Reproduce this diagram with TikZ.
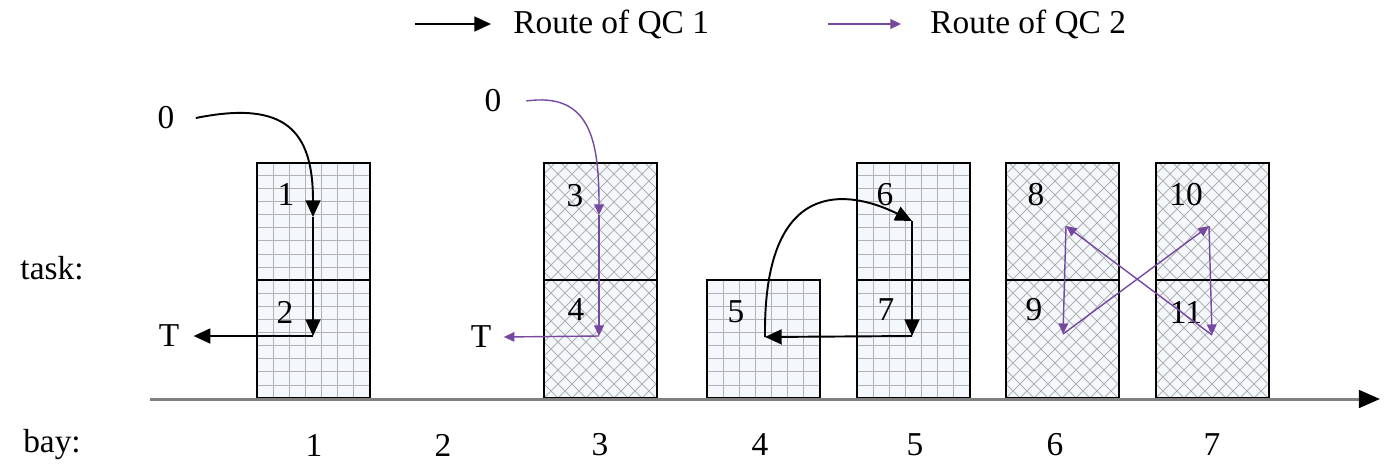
\documentclass[tikz,border=0pt]{standalone}
\usepackage{fontspec}
\setmainfont{Liberation Serif}
\usetikzlibrary{arrows.meta,positioning}
\definecolor{qcpurple}{RGB}{118,72,160}
\definecolor{boxfill}{RGB}{244,247,252}
\definecolor{axisgray}{RGB}{128,128,128}

\begin{document}
\begin{tikzpicture}[x=0.02cm, y=-0.02cm,
    lbl/.style={font=\fontsize{19}{22}\selectfont, inner sep=0pt},
    route1/.style={black, line width=1.1pt, -{Triangle[length=9.5pt, width=8.5pt]}},
    route2/.style={qcpurple, line width=0.8pt, -{Triangle[length=6pt, width=5.5pt]}},
    hatch/.style={draw=gray!60, line width=0.45pt},
    bayframe/.style={draw=black, line width=1.1pt}
  ]
    % frame
    \useasboundingbox (0,0) rectangle (1388,467);

    % legend
    \coordinate (leg1a) at (415,24);
    \coordinate (leg1b) at (491,24);
    \node[lbl, anchor=west] (leg1) at (513,24) {Route of QC 1};
    \coordinate (leg2a) at (828,24);
    \coordinate (leg2b) at (901,24);
    \node[lbl, anchor=west] (leg2) at (930,24) {Route of QC 2};
    \draw[route1] (leg1a) -- (leg1b);
    \draw[route2] (leg2a) -- (leg2b);

    % grid tasks (QC 1)
    \foreach \xa/\ya in {257/163, 707/280, 857/163} {
      \begin{scope}
        \clip (\xa,\ya) rectangle (\xa+113,398);
        \fill[boxfill] (\xa,\ya) rectangle (\xa+113,398);
        \foreach \i in {1,...,7}
          \draw[hatch] (\xa+\i*16,\ya) -- (\xa+\i*16,398);
        \foreach \j in {1,...,18}
          \draw[hatch] (\xa,398-\j*13.1) -- (\xa+113,398-\j*13.1);
      \end{scope}
    }

    % crosshatch tasks (QC 2)
    \foreach \xa/\ya in {544/163, 1006/163, 1156/163} {
      \begin{scope}
        \clip (\xa,\ya) rectangle (\xa+113,398);
        \fill[boxfill] (\xa,\ya) rectangle (\xa+113,398);
        \foreach \k in {-18,...,10}
          \draw[hatch] (\xa+\k*14,398) -- ++(240,-240);
        \foreach \k in {0,...,26}
          \draw[hatch] (\xa+\k*14,398) -- ++(-240,-240);
      \end{scope}
    }

    % task frames
    \foreach \xa in {257, 544, 857, 1006, 1156} {
      \draw[bayframe] (\xa,163) rectangle (\xa+113,398);
      \draw[bayframe] (\xa,280) -- (\xa+113,280);
    }
    \draw[bayframe] (707,280) rectangle (820,398);

    % axis
    \draw[axisgray, line width=1.7pt, -{Triangle[length=12pt, width=10pt, color=black]}] (150,399) -- (1380,399);

    % row labels
    \node[lbl] (task) at (52,268) {task:};
    \node[lbl] (bay) at (52,445) {bay:};
    \foreach \b/\x in {1/314, 2/443, 3/600, 4/760, 5/915, 6/1055, 7/1212}
      \node[lbl] (bay\b) at (\x,445) {\b};

    % task numbers
    \node[lbl] (t1) at (286,194) {1};
    \node[lbl] (t2) at (285,312) {2};
    \node[lbl] (t3) at (575,196) {3};
    \node[lbl] (t4) at (576,310) {4};
    \node[lbl] (t5) at (736,312) {5};
    \node[lbl] (t6) at (885,195) {6};
    \node[lbl] (t7) at (886,310) {7};
    \node[lbl] (t8) at (1036,195) {8};
    \node[lbl] (t9) at (1034,310) {9};
    \node[lbl] (t10) at (1186,195) {10};
    \node[lbl] (t11) at (1186,312) {11};

    % start and end
    \node[lbl] (s1) at (166,118) {0};
    \node[lbl] (e1) at (169,336) {T};
    \node[lbl] (s2) at (493,101) {0};
    \node[lbl] (e2) at (481,337) {T};

    % route points
    \coordinate (p1) at (313,217);
    \coordinate (p2) at (313,336);
    \coordinate (q5) at (765,337);
    \coordinate (q6) at (912,221);
    \coordinate (q7) at (912,336);
    \coordinate (r3) at (599,215);
    \coordinate (r4) at (599,336);
    \coordinate (r8) at (1066,226);
    \coordinate (r9) at (1063,334);
    \coordinate (r10) at (1209,226);
    \coordinate (r11) at (1212,335);

    % QC 1
    \draw[route1] ([xshift=12pt]s1.east) .. controls (285,100) and (313,130) .. (p1);
    \draw[route1] (p1) -- (p2);
    \draw[route1] (p2) -- ([xshift=8pt]e1.east);
    \draw[route1] (q5) .. controls (763,165) and (860,195) .. (q6);
    \draw[route1] (q6) -- (q7);
    \draw[route1] (q7) -- (q5);

    % QC 2
    \draw[route2] ([xshift=14pt]s2.east) .. controls (590,92) and (599,140) .. (r3);
    \draw[route2] (r3) -- (r4);
    \draw[route2] (r4) -- ([xshift=7pt]e2.east);
    \draw[route2] (r8) -- (r9);
    \draw[route2] (r9) -- (r10);
    \draw[route2] (r10) -- (r11);
    \draw[route2] (r11) -- (r8);
  \end{tikzpicture}
\end{document}
